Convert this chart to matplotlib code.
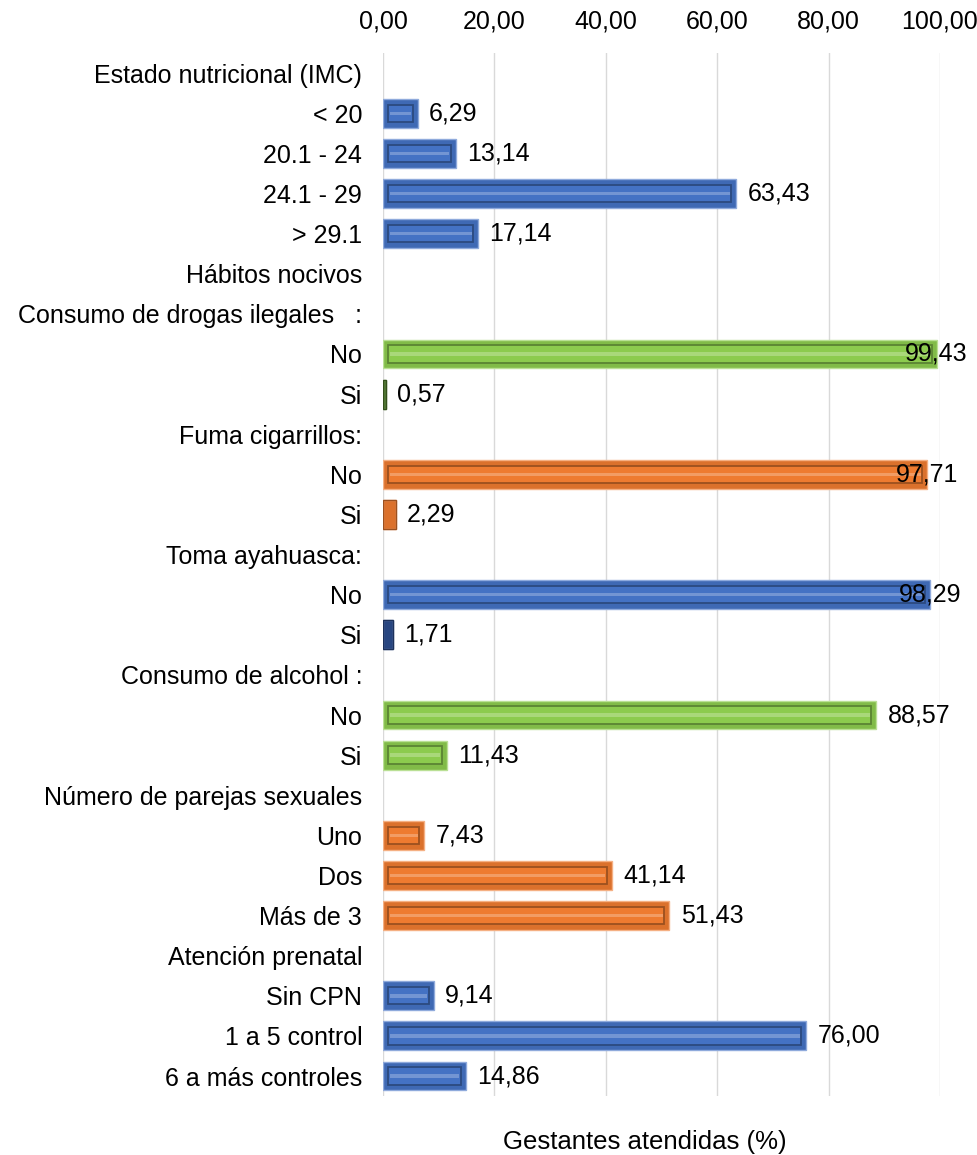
import matplotlib
matplotlib.use('Agg')
import matplotlib.pyplot as plt
import numpy as np
from matplotlib.colors import to_rgb

plt.rcParams['font.family'] = ['Liberation Sans', 'DejaVu Sans']

labels = ["Estado nutricional (IMC)", "< 20", "20.1 - 24", "24.1 - 29", "> 29.1",
          "Hábitos nocivos", "Consumo de drogas ilegales   :", "No", "Si",
          "Fuma cigarrillos:", "No", "Si", "Toma ayahuasca:", "No", "Si",
          "Consumo de alcohol :", "No", "Si", "Número de parejas sexuales",
          "Uno", "Dos", "Más de 3", "Atención prenatal", "Sin CPN",
          "1 a 5 control", "6 a más controles"]
values = [None, 6.29, 13.14, 63.43, 17.14,
          None, None, 99.43, 0.57,
          None, 97.71, 2.29, None, 98.29, 1.71,
          None, 88.57, 11.43, None,
          7.43, 41.14, 51.43, None, 9.14,
          76.00, 14.86]
BLUE, GREEN, ORANGE = '#4472C4', '#8CCB4E', '#EE7B30'
DKBLUE, DKGREEN = '#2B4C8C', '#4E7A2A'
colors = [None, BLUE, BLUE, BLUE, BLUE,
          None, None, GREEN, DKGREEN,
          None, ORANGE, ORANGE, None, BLUE, DKBLUE,
          None, GREEN, GREEN, None,
          ORANGE, ORANGE, ORANGE, None, BLUE,
          BLUE, BLUE]
xticks = [0, 20, 40, 60, 80, 100]


def shade(c, f):
    r = np.array(to_rgb(c))
    if f < 0:
        return tuple(r * (1 + f))
    return tuple(r + (1 - r) * f)


FS = 18
fig = plt.figure(figsize=(9.78, 11.55), dpi=100)
ax = fig.add_axes([0.3916, 0.051, 0.5695, 0.903])

y = np.arange(len(labels))
h = 0.72
for yi, v, c in zip(y, values, colors):
    if v is None:
        continue
    # base bar with light rim
    ax.barh(yi, v, height=h, color=shade(c, -0.08), edgecolor=shade(c, 0.4),
            linewidth=1.0, zorder=3)
    ins = 0.9
    if v > 2 * ins + 0.5:
        # inner bevel
        ax.barh(yi, v - 2 * ins, left=ins, height=h * 0.6, color=c,
                edgecolor=shade(c, -0.35), linewidth=1.3, zorder=4)
        ax.barh(yi, v - 2 * ins - 0.6, left=ins + 0.3, height=h * 0.12,
                color=shade(c, 0.25), linewidth=0, zorder=5)
    else:
        ax.barh(yi, v, height=h, color='none', edgecolor=shade(c, -0.35),
                linewidth=1.0, zorder=4)
    lab = f"{v:.2f}".replace('.', ',')
    if v > 95:
        ax.text(v + 5.5, yi, lab, ha='right', va='center', fontsize=FS,
                clip_on=False, zorder=6)
    else:
        ax.text(v + 2.0, yi, lab, ha='left', va='center', fontsize=FS,
                clip_on=False, zorder=6)

ax.set_xlim(0, 100)
ax.set_ylim(len(labels) - 0.5, -0.5)
ax.set_yticks(y)
ax.set_yticklabels(labels, fontsize=FS)
ax.set_xticks(xticks)
ax.set_xticklabels([f"{t:.2f}".replace('.', ',') for t in xticks], fontsize=FS)
ax.xaxis.tick_top()
ax.tick_params(axis='both', length=0)
ax.tick_params(axis='y', pad=15)
ax.tick_params(axis='x', pad=14)
for s in ax.spines.values():
    s.set_visible(False)
ax.grid(axis='x', color='#D9D9D9', linewidth=1.0, zorder=0)
ax.set_axisbelow(True)

fig.text(645 / 978, 1 - 1142 / 1155, "Gestantes atendidas (%)", ha='center',
         va='center', fontsize=FS + 0.5)

fig.savefig('out.png', dpi=100)
